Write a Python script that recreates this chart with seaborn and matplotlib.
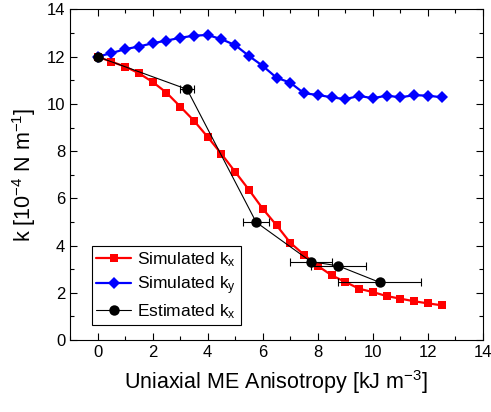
import numpy as np
import pandas as pd
import matplotlib
matplotlib.use('Agg')
import matplotlib.pyplot as plt
import seaborn as sns
from matplotlib.ticker import MultipleLocator

# Simulated data
sim_x = [0, 0.5, 1, 1.5, 2, 2.5, 3, 3.5, 4, 4.5, 5, 5.5, 6, 6.5, 7, 7.5,
         8, 8.5, 9, 9.5, 10, 10.5, 11, 11.5, 12, 12.5]
sim_kx = [12.0, 11.79, 11.58, 11.30, 10.93, 10.48, 9.89, 9.29, 8.60, 7.88,
          7.12, 6.36, 5.56, 4.86, 4.12, 3.61, 3.14, 2.74, 2.46, 2.17, 2.03,
          1.86, 1.75, 1.64, 1.55, 1.47]
sim_ky = [12.0, 12.15, 12.32, 12.43, 12.57, 12.68, 12.80, 12.89, 12.92, 12.74,
          12.49, 12.03, 11.61, 11.11, 10.90, 10.45, 10.38, 10.28, 10.20, 10.34,
          10.24, 10.35, 10.28, 10.37, 10.35, 10.28]

# Estimated data with horizontal error bars
est_x = [0.0, 3.25, 5.76, 7.75, 8.74, 10.25]
est_kx = [12.0, 10.62, 4.99, 3.32, 3.14, 2.44]
est_xerr = [0.0, 0.25, 0.48, 0.76, 1.0, 1.5]

sns.set_style('ticks')
plt.rcParams['font.family'] = ['Liberation Sans', 'DejaVu Sans']
plt.rcParams['mathtext.fontset'] = 'custom'
plt.rcParams['mathtext.rm'] = 'Liberation Sans'
plt.rcParams['mathtext.it'] = 'Liberation Sans'
plt.rcParams['mathtext.default'] = 'regular'
for key in ['text.color', 'axes.labelcolor', 'xtick.color', 'ytick.color']:
    plt.rcParams[key] = 'black'

fig = plt.figure(figsize=(4.91, 4.12), dpi=100)
ax = fig.add_axes([0.1426, 0.1748, 0.8411, 0.8022])

sns.lineplot(x=sim_x, y=sim_kx, ax=ax, color='#ff0000', marker='s', markersize=6,
             markeredgewidth=0, linewidth=1.6, label='Simulated k$_x$', zorder=3)
sns.lineplot(x=sim_x, y=sim_ky, ax=ax, color='#0000ff', marker='D', markersize=6.5,
             markeredgewidth=0, linewidth=1.6, label='Simulated k$_y$', zorder=3)
ax.errorbar(est_x, est_kx, xerr=est_xerr, fmt='none', ecolor='black',
            elinewidth=0.8, capsize=3, capthick=0.8, zorder=4)
sns.lineplot(x=est_x, y=est_kx, ax=ax, color='black', marker='o', markersize=7.5,
             markeredgewidth=0, linewidth=0.8, label='Estimated k$_x$', zorder=5,
             sort=False)

ax.set_xlim(-1, 14)
ax.set_ylim(0, 14)
ax.xaxis.set_major_locator(MultipleLocator(2))
ax.xaxis.set_minor_locator(MultipleLocator(1))
ax.yaxis.set_major_locator(MultipleLocator(2))
ax.yaxis.set_minor_locator(MultipleLocator(1))
ax.tick_params(which='both', direction='in', top=True, right=True, labelsize=12,
               color='black', width=0.8)
ax.tick_params(which='major', length=5)
ax.tick_params(which='minor', length=3)
for s in ax.spines.values():
    s.set_visible(True)
    s.set_color('black')
    s.set_linewidth(0.8)

ax.set_xlabel('Uniaxial ME Anisotropy [kJ m$^{-3}$]', fontsize=15.5, labelpad=6)
ax.set_ylabel('k [10$^{-4}$ N m$^{-1}$]', fontsize=15.5, labelpad=6)

leg = ax.legend(loc='lower left', bbox_to_anchor=(0.045, 0.035), fontsize=12.5,
                frameon=True, fancybox=False, edgecolor='black', framealpha=1,
                handlelength=2.0, borderpad=0.25, labelspacing=0.3,
                handletextpad=0.35, borderaxespad=0.2)
leg.get_frame().set_linewidth(0.8)

fig.savefig('out.png', dpi=100)
